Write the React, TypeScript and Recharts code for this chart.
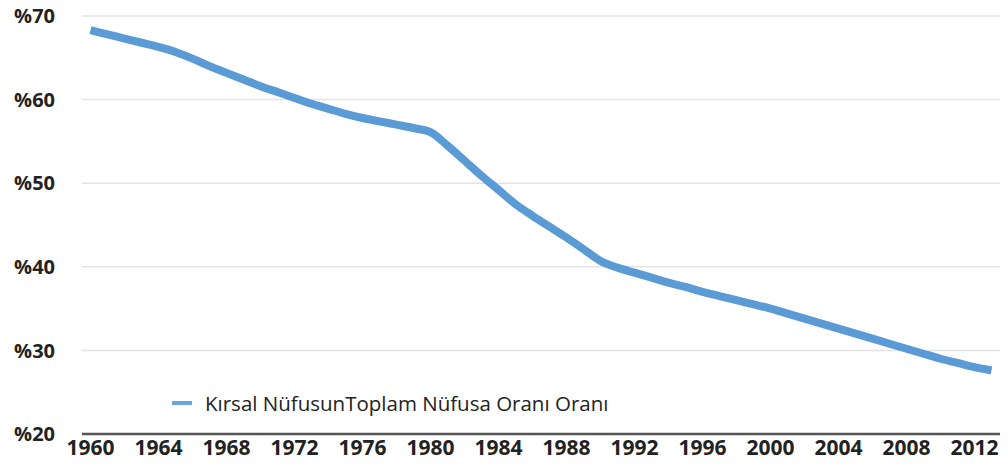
import React from 'react';
import { LineChart, Line, XAxis, YAxis, CartesianGrid } from 'recharts';

const years: number[] = [
  1960, 1961, 1962, 1963, 1964, 1965, 1966, 1967, 1968, 1969,
  1970, 1971, 1972, 1973, 1974, 1975, 1976, 1977, 1978, 1979,
  1980, 1981, 1982, 1983, 1984, 1985, 1986, 1987, 1988, 1989,
  1990, 1991, 1992, 1993, 1994, 1995, 1996, 1997, 1998, 1999,
  2000, 2001, 2002, 2003, 2004, 2005, 2006, 2007, 2008, 2009,
  2010, 2011, 2012, 2013,
];

const ruralShare: number[] = [
  68.3, 67.8, 67.3, 66.8, 66.3, 65.7, 64.9, 64.0, 63.2, 62.4,
  61.6, 60.9, 60.2, 59.5, 58.9, 58.3, 57.8, 57.4, 57.0, 56.6,
  56.1, 54.5, 52.7, 50.9, 49.2, 47.5, 46.1, 44.8, 43.5, 42.1,
  40.7, 39.9, 39.3, 38.7, 38.1, 37.6, 37.0, 36.5, 36.0, 35.5,
  35.0, 34.4, 33.8, 33.2, 32.6, 32.0, 31.4, 30.8, 30.2, 29.6,
  29.0, 28.5, 28.0, 27.6,
];

const xTicks: number[] = [1960, 1964, 1968, 1972, 1976, 1980, 1984, 1988, 1992, 1996, 2000, 2004, 2008, 2012];
const yTicks: number[] = [20, 30, 40, 50, 60, 70];
const seriesName = 'Kırsal NüfusunToplam Nüfusa Oranı Oranı';

const data = years.map((y, i) => ({ year: y, value: ruralShare[i] }));

const FONT = '"Open Sans", "Noto Sans", sans-serif';

export default function App() {
  return (
    <div style={{ position: 'absolute', left: 0, top: 0, width: 1008, height: 469, background: '#fff' }}>
      <LineChart width={1008} height={469} data={data} margin={{ top: 16, right: 8, bottom: 0, left: 0 }}>
        <CartesianGrid vertical={false} stroke="#e4e4e4" strokeWidth={1.5} />
        <XAxis
          dataKey="year"
          type="number"
          domain={[1959.5, 2013.5]}
          ticks={xTicks}
          interval={0}
          height={35}
          tickLine={false}
          tickSize={0}
          tickMargin={6}
          axisLine={{ stroke: '#555', strokeWidth: 2.5 }}
          tick={{ fill: '#222', fontFamily: FONT, fontSize: 21, fontWeight: 700 }}
        />
        <YAxis
          type="number"
          domain={[20, 70]}
          ticks={yTicks}
          width={82}
          axisLine={false}
          tickLine={false}
          tickSize={0}
          tickMargin={27}
          tickFormatter={(v: number) => '%' + v}
          tick={{ fill: '#222', fontFamily: FONT, fontSize: 20, fontWeight: 700 }}
        />
        <Line
          type="monotone"
          dataKey="value"
          name={seriesName}
          stroke="#5b9bd5"
          strokeWidth={8}
          strokeLinecap="butt"
          dot={false}
          activeDot={false}
          isAnimationActive={false}
        />
      </LineChart>
      <div
        style={{
          position: 'absolute',
          left: 172,
          top: 390,
          display: 'flex',
          alignItems: 'center',
          fontFamily: FONT,
          fontSize: 20.5,
          fontWeight: 500,
          color: '#222',
          whiteSpace: 'nowrap',
          lineHeight: '26px',
        }}
      >
        <svg width={20} height={6} style={{ marginRight: 13 }}>
          <line x1={0} y1={3} x2={20} y2={3} stroke="#6aa6dc" strokeWidth={4} />
        </svg>
        <span>{seriesName}</span>
      </div>
    </div>
  );
}
